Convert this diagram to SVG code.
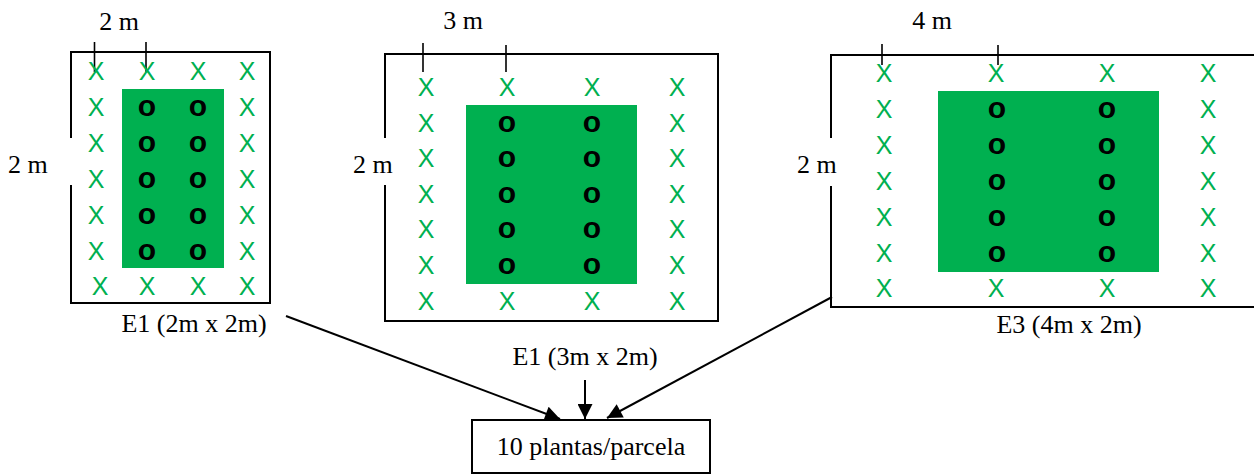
<svg xmlns="http://www.w3.org/2000/svg" width="1254" height="475" viewBox="0 0 1254 475">
<defs>
<marker id="ah" viewBox="0 0 10 10" refX="10" refY="5" markerWidth="16" markerHeight="15" markerUnits="userSpaceOnUse" orient="auto">
<path d="M0,0 L10,5 L0,10 z" fill="#000"/>
</marker>
<style>
.frame{fill:none;stroke:#000;stroke-width:2}
.tick{stroke:#000;stroke-width:1.6}
.bed{fill:#00B050}
.x{font-family:"Liberation Sans",Arial,sans-serif;font-size:25px;fill:#00B050;text-anchor:middle}
.o{font-family:"Liberation Sans",Arial,sans-serif;font-size:30px;font-weight:bold;fill:#000;text-anchor:middle}
.lbl{font-family:"Liberation Serif","Times New Roman",serif;font-size:26px;fill:#000}
.mid{text-anchor:middle}
.conn{stroke:#000;stroke-width:2;fill:none;marker-end:url(#ah)}
</style>
</defs>
<rect width="1254" height="475" fill="#fff"/>

<g id="plot-E1-2x2">
<path class="frame" d="M71,138 V52 H270 V303 H71 V185"/>
<rect class="bed" x="122" y="89" width="102" height="179"/>
<line class="tick" x1="94.5" y1="42" x2="94.5" y2="72"/>
<line class="tick" x1="146" y1="42" x2="146" y2="72"/>
<text class="lbl mid" x="119" y="30">2 m</text>
<text class="lbl" x="8" y="173">2 m</text>
<text class="lbl mid" x="194" y="332">E1 (2m x 2m)</text>
<g class="x">
<text x="96" y="80">X</text><text x="147" y="80">X</text><text x="198" y="80">X</text><text x="247" y="80">X</text>
<text x="96" y="116">X</text><text x="247" y="116">X</text>
<text x="96" y="152">X</text><text x="247" y="152">X</text>
<text x="96" y="188">X</text><text x="247" y="188">X</text>
<text x="96" y="224">X</text><text x="247" y="224">X</text>
<text x="96" y="260">X</text><text x="247" y="260">X</text>
<text x="100" y="295">X</text><text x="147" y="295">X</text><text x="198" y="295">X</text><text x="247" y="295">X</text>
</g>
<g class="o">
<text x="147" y="116">o</text><text x="198" y="116">o</text>
<text x="147" y="152">o</text><text x="198" y="152">o</text>
<text x="147" y="188">o</text><text x="198" y="188">o</text>
<text x="147" y="224">o</text><text x="198" y="224">o</text>
<text x="147" y="260">o</text><text x="198" y="260">o</text>
</g>
</g>

<g id="plot-E1-3x2">
<path class="frame" d="M385,138 V54 H718 V321 H385 V185"/>
<rect class="bed" x="466" y="105" width="171" height="179"/>
<line class="tick" x1="423" y1="43" x2="423" y2="72"/>
<line class="tick" x1="506" y1="45" x2="506" y2="72"/>
<text class="lbl mid" x="463" y="29">3 m</text>
<text class="lbl" x="353" y="173">2 m</text>
<g class="x">
<text x="426" y="96">X</text><text x="507" y="96">X</text><text x="592" y="96">X</text><text x="677" y="96">X</text>
<text x="426" y="132">X</text><text x="677" y="132">X</text>
<text x="426" y="167">X</text><text x="677" y="167">X</text>
<text x="426" y="203">X</text><text x="677" y="203">X</text>
<text x="426" y="238">X</text><text x="677" y="238">X</text>
<text x="426" y="274">X</text><text x="677" y="274">X</text>
<text x="426" y="310">X</text><text x="507" y="310">X</text><text x="592" y="310">X</text><text x="677" y="310">X</text>
</g>
<g class="o">
<text x="507" y="132">o</text><text x="592" y="132">o</text>
<text x="507" y="167">o</text><text x="592" y="167">o</text>
<text x="507" y="203">o</text><text x="592" y="203">o</text>
<text x="507" y="238">o</text><text x="592" y="238">o</text>
<text x="507" y="274">o</text><text x="592" y="274">o</text>
</g>
</g>

<g id="plot-E3-4x2">
<path class="frame" d="M831,138 V55 H1262 M1262,307 H831 V186"/>
<rect class="bed" x="938" y="91" width="221" height="181"/>
<line class="tick" x1="882" y1="44" x2="882" y2="65"/>
<line class="tick" x1="998" y1="45" x2="998" y2="65"/>
<text class="lbl mid" x="932" y="29">4 m</text>
<text class="lbl" x="797" y="173">2 m</text>
<text class="lbl mid" x="1069" y="333">E3 (4m x 2m)</text>
<g class="x">
<text x="884" y="82">X</text><text x="996" y="82">X</text><text x="1107" y="82">X</text><text x="1208" y="82">X</text>
<text x="884" y="118">X</text><text x="1208" y="118">X</text>
<text x="884" y="154">X</text><text x="1208" y="154">X</text>
<text x="884" y="190">X</text><text x="1208" y="190">X</text>
<text x="884" y="226">X</text><text x="1208" y="226">X</text>
<text x="884" y="262">X</text><text x="1208" y="262">X</text>
<text x="884" y="297">X</text><text x="996" y="297">X</text><text x="1107" y="297">X</text><text x="1208" y="297">X</text>
</g>
<g class="o">
<text x="997" y="118">o</text><text x="1107" y="118">o</text>
<text x="997" y="154">o</text><text x="1107" y="154">o</text>
<text x="997" y="190">o</text><text x="1107" y="190">o</text>
<text x="997" y="226">o</text><text x="1107" y="226">o</text>
<text x="997" y="262">o</text><text x="1107" y="262">o</text>
</g>
</g>

<g id="label-E1-3x2">
<text class="lbl mid" x="585" y="365">E1 (3m x 2m)</text>
</g>

<g id="result">
<rect class="frame" x="472" y="420" width="238" height="53"/>
<text class="lbl mid" x="591" y="455">10 plantas/parcela</text>
</g>

<g id="connectors">
<line class="conn" x1="286" y1="316" x2="560" y2="419"/>
<line class="conn" x1="585" y1="380" x2="585" y2="419"/>
<line class="conn" x1="832" y1="297" x2="607" y2="418"/>
</g>
</svg>
